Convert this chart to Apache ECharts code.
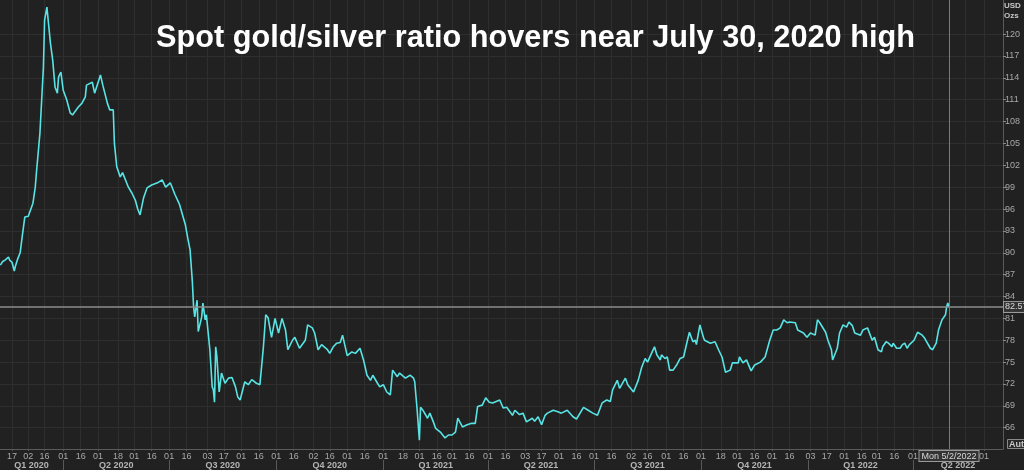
<!DOCTYPE html>
<html><head><meta charset="utf-8">
<script src="https://cdn.jsdelivr.net/npm/echarts@6/dist/echarts.min.js"></script>
<style>html,body{margin:0;padding:0;background:#212121}#c{width:1024px;height:470px}</style>
</head><body><div id="c"></div>
<script>
const titleText = 'Spot gold/silver ratio hovers near July 30, 2020 high';
const unitLabel = 'USD\nOzs';
const lastDateLabel = 'Mon 5/2/2022';

const dates = [
'2020-02-07','2020-02-09','2020-02-11','2020-02-14','2020-02-15','2020-02-17','2020-02-19','2020-02-20','2020-02-22','2020-02-24',
'2020-02-26','2020-02-28','2020-03-02','2020-03-03','2020-03-06','2020-03-08','2020-03-09','2020-03-12','2020-03-15','2020-03-16',
'2020-03-18','2020-03-21','2020-03-23','2020-03-25','2020-03-27','2020-03-28','2020-03-30','2020-04-01','2020-04-04','2020-04-07',
'2020-04-09','2020-04-14','2020-04-17','2020-04-20','2020-04-21','2020-04-26','2020-04-28','2020-05-03','2020-05-05','2020-05-09',
'2020-05-11','2020-05-14','2020-05-15','2020-05-17','2020-05-20','2020-05-22','2020-05-27','2020-05-30','2020-06-02','2020-06-04',
'2020-06-06','2020-06-09','2020-06-12','2020-06-16','2020-06-21','2020-06-25','2020-06-28','2020-07-02','2020-07-06','2020-07-10',
'2020-07-15','2020-07-17','2020-07-19','2020-07-21','2020-07-22','2020-07-23','2020-07-25','2020-07-26','2020-07-29','2020-07-30',
'2020-08-01','2020-08-02','2020-08-05','2020-08-07','2020-08-08','2020-08-09','2020-08-10','2020-08-11','2020-08-13','2020-08-15',
'2020-08-18','2020-08-21','2020-08-24','2020-08-27','2020-08-29','2020-08-31','2020-09-04','2020-09-07','2020-09-10','2020-09-14',
'2020-09-17','2020-09-20','2020-09-22','2020-09-24','2020-09-27','2020-09-30','2020-10-03','2020-10-06','2020-10-09','2020-10-11',
'2020-10-15','2020-10-17','2020-10-21','2020-10-26','2020-10-28','2020-11-01','2020-11-03','2020-11-06','2020-11-09','2020-11-14',
'2020-11-16','2020-11-19','2020-11-22','2020-11-25','2020-11-27','2020-12-01','2020-12-05','2020-12-08','2020-12-12','2020-12-15',
'2020-12-18','2020-12-21','2020-12-23','2020-12-27','2020-12-29','2021-01-01','2021-01-04','2021-01-07','2021-01-09','2021-01-13',
'2021-01-15','2021-01-20','2021-01-24','2021-01-27','2021-01-28','2021-01-30','2021-02-01','2021-02-02','2021-02-04','2021-02-08',
'2021-02-10','2021-02-13','2021-02-15','2021-02-19','2021-02-21','2021-02-23','2021-02-26','2021-03-01','2021-03-04','2021-03-06',
'2021-03-10','2021-03-14','2021-03-18','2021-03-21','2021-03-23','2021-03-27','2021-03-30','2021-04-02','2021-04-05','2021-04-11',
'2021-04-14','2021-04-17','2021-04-22','2021-04-24','2021-04-28','2021-05-01','2021-05-04','2021-05-09','2021-05-11','2021-05-14',
'2021-05-17','2021-05-20','2021-05-22','2021-05-27','2021-05-31','2021-06-03','2021-06-08','2021-06-13','2021-06-16','2021-06-22',
'2021-06-26','2021-06-30','2021-07-04','2021-07-08','2021-07-12','2021-07-15','2021-07-17','2021-07-21','2021-07-23','2021-07-28',
'2021-07-30','2021-08-04','2021-08-08','2021-08-11','2021-08-14','2021-08-16','2021-08-20','2021-08-22','2021-08-24','2021-08-27',
'2021-08-28','2021-08-31','2021-09-02','2021-09-04','2021-09-07','2021-09-10','2021-09-13','2021-09-16','2021-09-19','2021-09-21',
'2021-09-24','2021-09-26','2021-09-27','2021-09-30','2021-10-03','2021-10-04','2021-10-09','2021-10-13','2021-10-16','2021-10-19',
'2021-10-22','2021-10-26','2021-10-28','2021-11-02','2021-11-03','2021-11-06','2021-11-09','2021-11-13','2021-11-16','2021-11-21',
'2021-11-25','2021-11-29','2021-12-02','2021-12-05','2021-12-08','2021-12-11','2021-12-14','2021-12-16','2021-12-21','2021-12-23',
'2021-12-28','2021-12-31','2022-01-03','2022-01-07','2022-01-09','2022-01-11','2022-01-16','2022-01-18','2022-01-21','2022-01-22',
'2022-01-26','2022-01-28','2022-01-31','2022-02-03','2022-02-05','2022-02-08','2022-02-10','2022-02-15','2022-02-17','2022-02-21',
'2022-02-22','2022-02-25','2022-02-27','2022-03-02','2022-03-05','2022-03-06','2022-03-09','2022-03-11','2022-03-14','2022-03-15',
'2022-03-18','2022-03-21','2022-03-23','2022-03-25','2022-03-27','2022-03-29','2022-04-02','2022-04-05','2022-04-09','2022-04-11',
'2022-04-16','2022-04-18','2022-04-21','2022-04-23','2022-04-26','2022-04-29','2022-04-30','2022-05-01','2022-05-02'
];
const ratio = [
88.3,88.8,89.0,89.4,89.0,88.7,87.5,88.2,89.2,90.0,
92.5,94.9,95.0,95.2,96.8,99.0,101.0,106.4,115.5,121.9,
123.7,118.8,116.4,112.7,111.9,114.1,114.8,112.3,111.0,109.2,
108.9,110.0,110.5,111.4,113.0,113.4,111.9,114.4,113.0,110.5,
109.6,109.6,105.0,101.8,100.4,101.0,99.0,98.2,97.2,96.0,
95.2,97.5,98.9,99.3,99.6,100.0,99.0,99.6,98.0,96.6,
93.8,92.0,90.4,85.9,82.6,81.2,83.5,79.2,81.2,83.1,
80.8,81.5,76.7,71.6,71.2,69.5,77.1,75.8,70.9,73.5,
72.1,72.8,72.9,71.6,70.2,69.8,72.3,71.9,72.6,72.1,
71.9,77.1,81.5,81.1,78.4,81.0,79.0,81.0,79.4,76.7,
78.0,78.4,76.9,78.0,80.1,79.7,79.0,76.7,77.4,76.7,
76.2,77.1,77.6,77.7,78.7,75.9,76.4,76.2,76.9,75.3,
73.2,72.5,73.2,72.1,71.6,71.9,70.9,70.5,73.9,73.0,
73.5,72.8,73.2,72.8,72.3,68.6,64.3,68.8,68.4,67.3,
68.0,66.8,65.9,65.4,65.0,64.6,65.0,65.0,65.4,67.3,
66.1,66.4,66.6,66.6,68.9,69.1,70.1,69.5,69.4,69.8,
68.7,68.8,67.7,68.4,67.8,68.0,66.8,67.3,66.9,67.5,
66.4,67.7,68.0,68.4,68.2,68.0,68.4,67.5,67.2,68.8,
68.4,68.0,67.7,69.4,69.8,69.6,71.2,72.5,71.4,72.8,
71.9,70.9,72.5,74.3,75.5,75.0,76.4,77.1,76.0,75.3,
76.0,75.5,75.7,73.9,73.9,74.6,75.5,75.7,77.8,79.1,
77.8,78.0,77.4,80.1,78.4,78.0,77.6,77.8,76.7,75.7,
73.6,73.9,74.9,74.9,75.7,74.9,75.3,73.8,74.6,75.0,
75.7,78.0,79.4,79.4,79.7,80.8,80.4,80.5,80.4,79.4,
79.0,78.4,79.0,78.7,80.8,80.4,79.1,78.0,76.7,75.3,
76.9,79.0,80.1,79.8,80.5,80.0,79.0,78.7,79.4,79.7,
79.5,78.0,78.4,76.7,76.4,77.1,77.8,77.6,77.1,77.6,
76.9,76.9,77.4,77.6,76.9,77.4,78.0,79.1,78.7,78.3,
76.9,76.7,77.6,79.4,80.8,81.5,82.6,83.1,82.57
];

const yTicks = [66,69,72,75,78,81,84,87,90,93,96,99,102,105,108,111,114,117,120];

const dayTickDates = [
'2020-02-17','2020-03-02','2020-03-16','2020-04-01','2020-04-16','2020-05-01','2020-05-18','2020-06-01','2020-06-16',
'2020-07-01','2020-07-16','2020-08-03','2020-08-17','2020-09-01','2020-09-16','2020-10-01','2020-10-16','2020-11-02',
'2020-11-16','2020-12-01','2020-12-16','2021-01-01','2021-01-18','2021-02-01','2021-02-16','2021-03-01','2021-03-16',
'2021-04-01','2021-04-16','2021-05-03','2021-05-17','2021-06-01','2021-06-16','2021-07-01','2021-07-16','2021-08-02',
'2021-08-16','2021-09-01','2021-09-16','2021-10-01','2021-10-18','2021-11-01','2021-11-16','2021-12-01','2021-12-16',
'2022-01-03','2022-01-17','2022-02-01','2022-02-16','2022-03-01','2022-03-16','2022-04-01','2022-04-18','2022-05-02',
'2022-05-16','2022-06-01'
];
const hiddenDayLabels = ['2022-04-18','2022-05-02','2022-05-16'];

const quarterStarts = ['2020-01-01','2020-04-01','2020-07-01','2020-10-01','2021-01-01','2021-04-01',
  '2021-07-01','2021-10-01','2022-01-01','2022-04-01','2022-07-01'];
const quarterLabels = ['Q1 2020','Q2 2020','Q3 2020','Q4 2020','Q1 2021','Q2 2021','Q3 2021','Q4 2021','Q1 2022','Q2 2022'];

// ---- build ----
const DAY = 86400000;
const t = s => Date.parse(s);
const xMin = t('2020-02-17') - 10.3 * DAY;
const xMax = t('2020-02-17') + 851.4 * DAY;
const yMin = 63.08, yMax = 124.68;

const seriesData = dates.map((d, i) => [t(d), ratio[i]]);
const dayTickVals = dayTickDates.map(t);
const dayLabelVals = dayTickDates.filter(d => hiddenDayLabels.indexOf(d) < 0).map(t);
const qBounds = quarterStarts.map(t);
const qCenters = quarterLabels.map((q, i) => {
  const a = Math.max(qBounds[i], xMin), b = Math.min(qBounds[i + 1], xMax);
  return Math.round((a + b) / 2);
});
const qSepVals = qBounds.filter(v => v > xMin && v < xMax);
const lastVal = ratio[ratio.length - 1];
const lastT = t(dates[dates.length - 1]);
const pad = n => (n < 10 ? '0' : '') + n;

const FONT = 'Liberation Sans, Arial, sans-serif';
const AX = '#5a5a5a', GRID = '#2e2e2e', TXT = '#a8a8a8';

const chart = echarts.init(document.getElementById('c'), null, {renderer: 'canvas'});
chart.setOption({
  backgroundColor: '#212121',
  animation: false,
  textStyle: {fontFamily: FONT},
  title: [
    {text: titleText, left: 156, top: 23, padding: 0,
     textStyle: {color: '#ffffff', fontSize: 30.7, fontWeight: 'bold', fontFamily: FONT}},
    {text: unitLabel, left: 1004, top: 1, padding: 0,
     textStyle: {color: '#c8c8c8', fontSize: 8, fontWeight: 'bold', lineHeight: 10, fontFamily: FONT}},
    {text: 'Auto', left: 1007, top: 439, padding: [1, 2, 0, 2],
     backgroundColor: '#2a2a2a', borderColor: '#8a8a8a', borderWidth: 1,
     textStyle: {color: '#c8c8c8', fontSize: 9, fontFamily: FONT}}
  ],
  grid: {left: 0, right: 21, top: 0, bottom: 21, containLabel: false, outerBoundsMode: 'none'},
  xAxis: [
    {type: 'value', min: xMin, max: xMax, position: 'bottom',
     axisLine: {show: true, lineStyle: {color: AX}},
     axisTick: {show: true, customValues: dayTickVals, length: 2, lineStyle: {color: AX}},
     axisLabel: {customValues: dayLabelVals, color: TXT, fontSize: 9, margin: 3,
       formatter: v => pad(new Date(v).getUTCDate())},
     splitLine: {show: true, lineStyle: {color: GRID, width: 1}}},
    {type: 'value', min: xMin, max: xMax, position: 'bottom', offset: 11,
     axisLine: {show: false},
     axisTick: {show: true, customValues: qSepVals, length: 10, lineStyle: {color: AX}},
     axisLabel: {customValues: qCenters, color: '#b4b4b4', fontSize: 9, fontWeight: 'bold', margin: 1,
       formatter: v => quarterLabels[qCenters.indexOf(v)] || ''},
     splitLine: {show: false}}
  ],
  yAxis: {
    type: 'value', position: 'right', min: yMin, max: yMax,
    axisLine: {show: true, lineStyle: {color: AX}},
    axisTick: {show: true, customValues: yTicks, length: 3, lineStyle: {color: '#888'}},
    axisLabel: {customValues: yTicks, color: TXT, fontSize: 9, margin: 2},
    splitLine: {show: true, lineStyle: {color: GRID, width: 1}}
  },
  series: [{
    type: 'line', xAxisIndex: 0, data: seriesData, showSymbol: false, smooth: false,
    lineStyle: {color: '#58e4e4', width: 1.6},
    markLine: {
      silent: true, symbol: ['none', 'none'], animation: false,
      data: [
        {yAxis: lastVal, lineStyle: {color: '#8c8c8c', width: 1.6, type: 'solid'},
         label: {show: true, position: 'end', distance: 1, formatter: () => lastVal.toFixed(2),
           color: '#d8d8d8', fontSize: 9, backgroundColor: '#333', borderColor: '#9a9a9a', borderWidth: 1,
           padding: [1, 1, 0, 1]}},
        {xAxis: lastT, lineStyle: {color: '#7a7a7a', width: 1, type: 'solid'},
         label: {show: true, position: 'start', distance: 2, formatter: lastDateLabel,
           color: '#d8d8d8', fontSize: 9, backgroundColor: '#333', borderColor: '#9a9a9a', borderWidth: 1,
           padding: [1, 2, 0, 2]}}
      ]
    }
  }]
});
</script></body></html>
